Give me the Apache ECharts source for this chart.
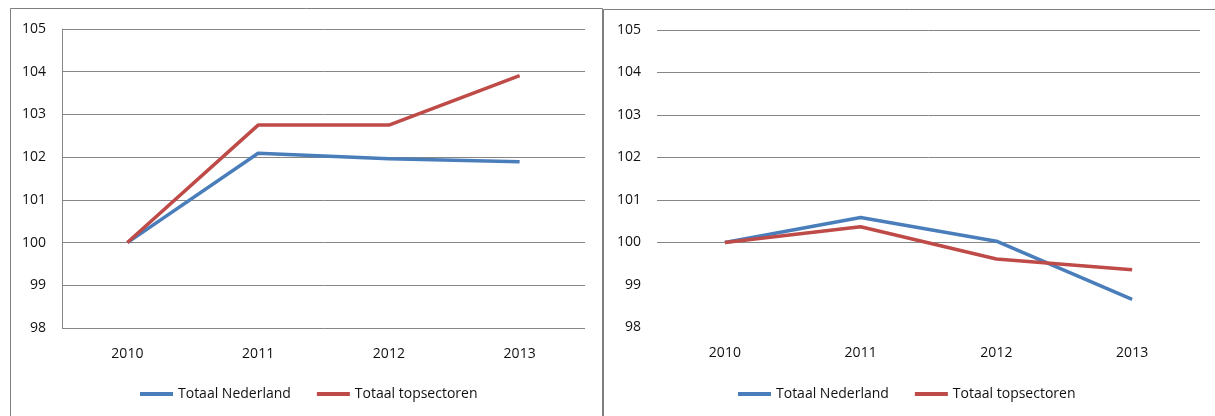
<!DOCTYPE html>
<html>
<head>
<meta charset="utf-8">
<script src="https://cdn.jsdelivr.net/npm/echarts@6/dist/echarts.min.js"></script>
<style>
  html, body { margin: 0; padding: 0; background: #fff; overflow: hidden; }
  #chart { width: 1215px; height: 416px; }
</style>
</head>
<body>
<div id="chart"></div>
<script>
// years on the x axis
const years = ['2010', '2011', '2012', '2013']
// y axis range (index, 2010 = 100)
const yMin = 98
const yMax = 105
const yStep = 1
// left panel
const nlLeft = [100, 102.09, 101.96, 101.89]
const topLeft = [100, 102.75, 102.75, 103.91]
// right panel
const nlRight = [100, 100.59, 100.03, 98.66]
const topRight = [100, 100.37, 99.61, 99.36]

const names = ['Totaal Nederland', 'Totaal topsectoren']
const blue = '#4a7ebb'
const red = '#be4b48'
const gridGray = '#868686'
const font = 'Open Sans'

const mychart = echarts.init(document.getElementById('chart'))

function yAxis (idx, showLine, lineColors) {
  return {
    type: 'value',
    gridIndex: idx,
    min: yMin,
    max: yMax,
    interval: yStep,
    axisLine: { show: showLine, lineStyle: { color: gridGray, width: 1 } },
    axisTick: { show: false },
    axisLabel: { margin: 16, fontFamily: font, fontSize: 14, color: '#111' },
    splitLine: { show: true, lineStyle: { color: lineColors, width: 1 } }
  }
}

function xAxis (idx) {
  return {
    type: 'category',
    gridIndex: idx,
    data: years,
    boundaryGap: true,
    axisLine: { show: false },
    axisTick: { show: false },
    axisLabel: { margin: 19, fontFamily: font, fontSize: 14, color: '#111' }
  }
}

function lineSeries (name, data, color, idx) {
  return {
    name: name,
    type: 'line',
    xAxisIndex: idx,
    yAxisIndex: idx,
    data: data,
    symbol: 'none',
    smooth: false,
    lineStyle: { color: color, width: 3.5 },
    itemStyle: { color: color },
    animation: false
  }
}

function legend (left) {
  return {
    data: names,
    left: left,
    top: 382,
    icon: 'rect',
    itemWidth: 33,
    itemHeight: 4,
    itemGap: 26,
    textStyle: { fontFamily: font, fontSize: 14, color: '#111' }
  }
}

const transparent = 'rgba(0,0,0,0)'

mychart.setOption({
  animation: false,
  graphic: [
    {
      type: 'rect',
      shape: { x: 10.5, y: 8.5, width: 592, height: 500 },
      style: { fill: 'none', stroke: '#7f7f7f', lineWidth: 1 }
    },
    {
      type: 'rect',
      shape: { x: 603.5, y: 9.5, width: 700, height: 500 },
      style: { fill: 'none', stroke: '#7f7f7f', lineWidth: 1 }
    }
  ],
  grid: [
    { left: 62, top: 29, width: 523, height: 299 },
    { left: 657, top: 30, width: 543, height: 297.5 }
  ],
  xAxis: [xAxis(0), xAxis(1)],
  yAxis: [
    yAxis(0, true, [gridGray]),
    // the two bottom gridlines are not drawn in the right panel
    yAxis(1, false, [transparent, transparent, gridGray, gridGray, gridGray, gridGray, gridGray, gridGray])
  ],
  legend: [legend(135), legend(733)],
  series: [
    lineSeries(names[0], nlLeft, blue, 0),
    lineSeries(names[1], topLeft, red, 0),
    lineSeries(names[0], nlRight, blue, 1),
    lineSeries(names[1], topRight, red, 1)
  ]
})
</script>
</body>
</html>
